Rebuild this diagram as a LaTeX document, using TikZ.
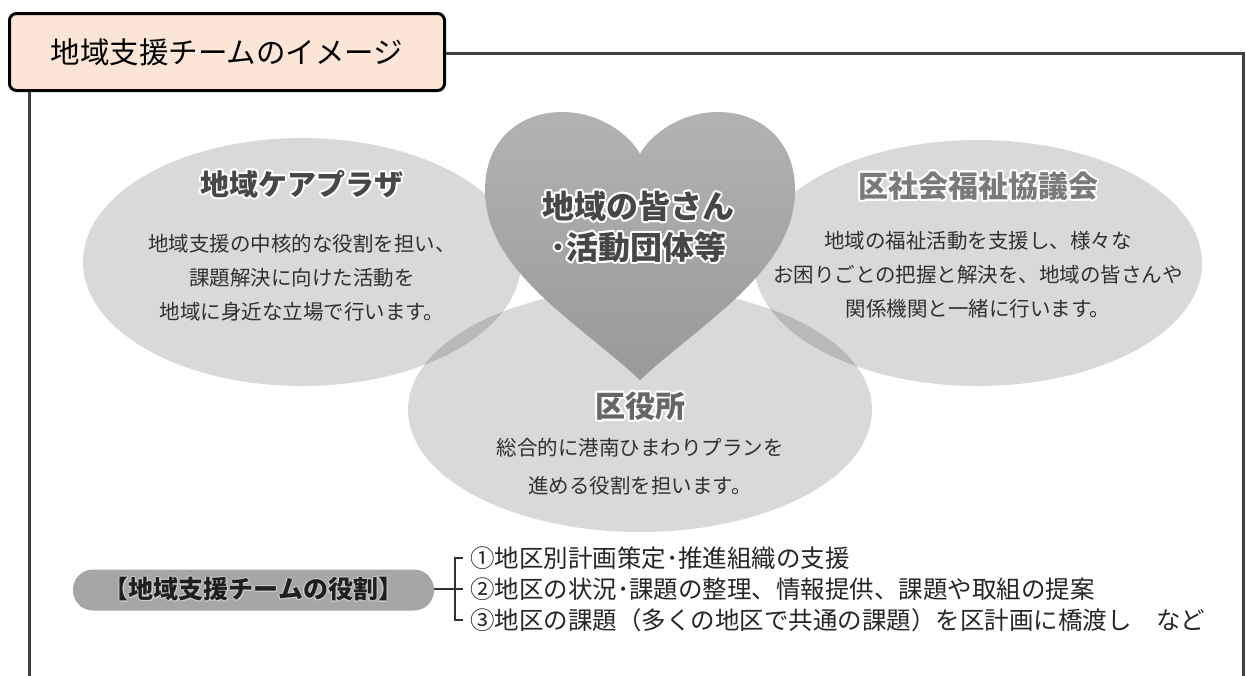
\documentclass[tikz,border=0pt]{standalone}
\usepackage{fontspec}
\setmainfont{Noto Sans CJK JP}
\usepackage[copies]{contour}
\usetikzlibrary{shapes.geometric}
\definecolor{peach}{HTML}{FBE5D6}
\definecolor{framegray}{HTML}{404040}
\definecolor{bodytext}{HTML}{303030}
\definecolor{pillgray}{HTML}{A6A6A6}
\contourlength{2pt}
\contournumber{12}
\tikzset{
  every picture/.style={
    x=1pt, y=-1pt
  },
  frame/.style={
    draw=framegray, line width=3pt
  },
  headbox/.style={
    draw, line width=3pt, rounded corners=7pt, fill=peach,
    minimum width=435pt, minimum height=77pt,
    font=\fontsize{29.5}{34}\selectfont
  },
  bubble/.style={
    ellipse, fill=black, fill opacity=0.15, inner sep=0pt
  },
  bubble head/.style={
    font=\fontsize{29}{34}\selectfont\bfseries, text=#1
  },
  bubble text/.style={
    align=center, text=bodytext,
    font=\fontsize{20.5}{34}\selectfont
  },
  rolebox/.style={
    fill=pillgray, rounded corners=20pt,
    minimum width=361pt, minimum height=41pt,
    text=black!88, font=\fontsize{25}{28}\selectfont\bfseries
  },
  item/.style={
    anchor=west, inner sep=0pt, text=black!85,
    font=\fontsize{24.5}{28}\selectfont
  },
  bracket/.style={
    draw=black!80, line width=2.5pt
  }
}
\begin{document}
\begin{tikzpicture}
  \useasboundingbox (0,0) rectangle (1246,675);
  \node[headbox] (head) at (227,52) {地域支援チームのイメージ};
  \coordinate (frameNE) at (1243,53);
  \coordinate (frameSE) at (1243,690);
  \coordinate (frameSW) at (29,690);
  \draw[frame] (head.east |- frameNE) -- (frameNE) -- (frameSE);
  \draw[frame] (head.south -| frameSW) -- (frameSW);

  \node[bubble, minimum width=438pt, minimum height=248pt] (plaza) at (302,262) {};
  \node[bubble, minimum width=448pt, minimum height=246pt] (council) at (978,263) {};
  \node[bubble, minimum width=464pt, minimum height=244pt] (office) at (640,410) {};

  \shade[top color=black!30, bottom color=black!40]
    (640,380) .. controls (575,320) and (485,270) .. (485,190)
    .. controls (485,140) and (520,112) .. (562,112)
    .. controls (600,112) and (630,135) .. (640,154)
    .. controls (650,135) and (680,112) .. (718,112)
    .. controls (760,112) and (795,140) .. (795,190)
    .. controls (795,270) and (705,320) .. (640,380);

  \node[bubble head=black!72, align=center, font=\fontsize{32}{41}\selectfont\bfseries]
    (people) at (638,228) {\contour{white}{地域の皆さん}\\\contour{white}{･活動団体等}};

  \node[bubble head=black!72] (plazahead) at (302,185) {\contour{white}{地域ケアプラザ}};
  \node[bubble text] (plazatext) at (302,278)
    {地域支援の中核的な役割を担い、\\課題解決に向けた活動を\\地域に身近な立場で行います。};

  \node[bubble head=black!52, font=\fontsize{30}{34}\selectfont\bfseries]
    (councilhead) at (978,187) {\contour{white}{区社会福祉協議会}};
  \node[bubble text] (counciltext) at (978,275)
    {地域の福祉活動を支援し、様々な\\お困りごとの把握と解決を、地域の皆さんや\\関係機関と一緒に行います。};

  \node[bubble head=black!60, font=\fontsize{30}{34}\selectfont\bfseries]
    (officehead) at (640,407) {\contour{white}{区役所}};
  \node[bubble text, font=\fontsize{20.5}{38}\selectfont] (officetext) at (640,467)
    {総合的に港南ひまわりプランを\\進める役割を担います。};

  \node[rolebox] (role) at (253.5,590) {\contourlength{1pt}\contour{black!20}{【地域支援チームの役割】}};
  \node[item] (item1) at (470,558) {①地区別計画策定･推進組織の支援};
  \node[item] (item2) at (470,589) {②地区の状況･課題の整理、情報提供、課題や取組の提案};
  \node[item] (item3) at (470,620) {③地区の課題（多くの地区で共通の課題）を区計画に橋渡し　など};
  \coordinate (brace) at (455,589);
  \draw[bracket] ([xshift=-7pt]item1.west) -| (brace) |- ([xshift=-7pt]item3.west);
  \draw[bracket] (role.east |- item2.west) -- ([xshift=-7pt]item2.west);
\end{tikzpicture}
\end{document}
